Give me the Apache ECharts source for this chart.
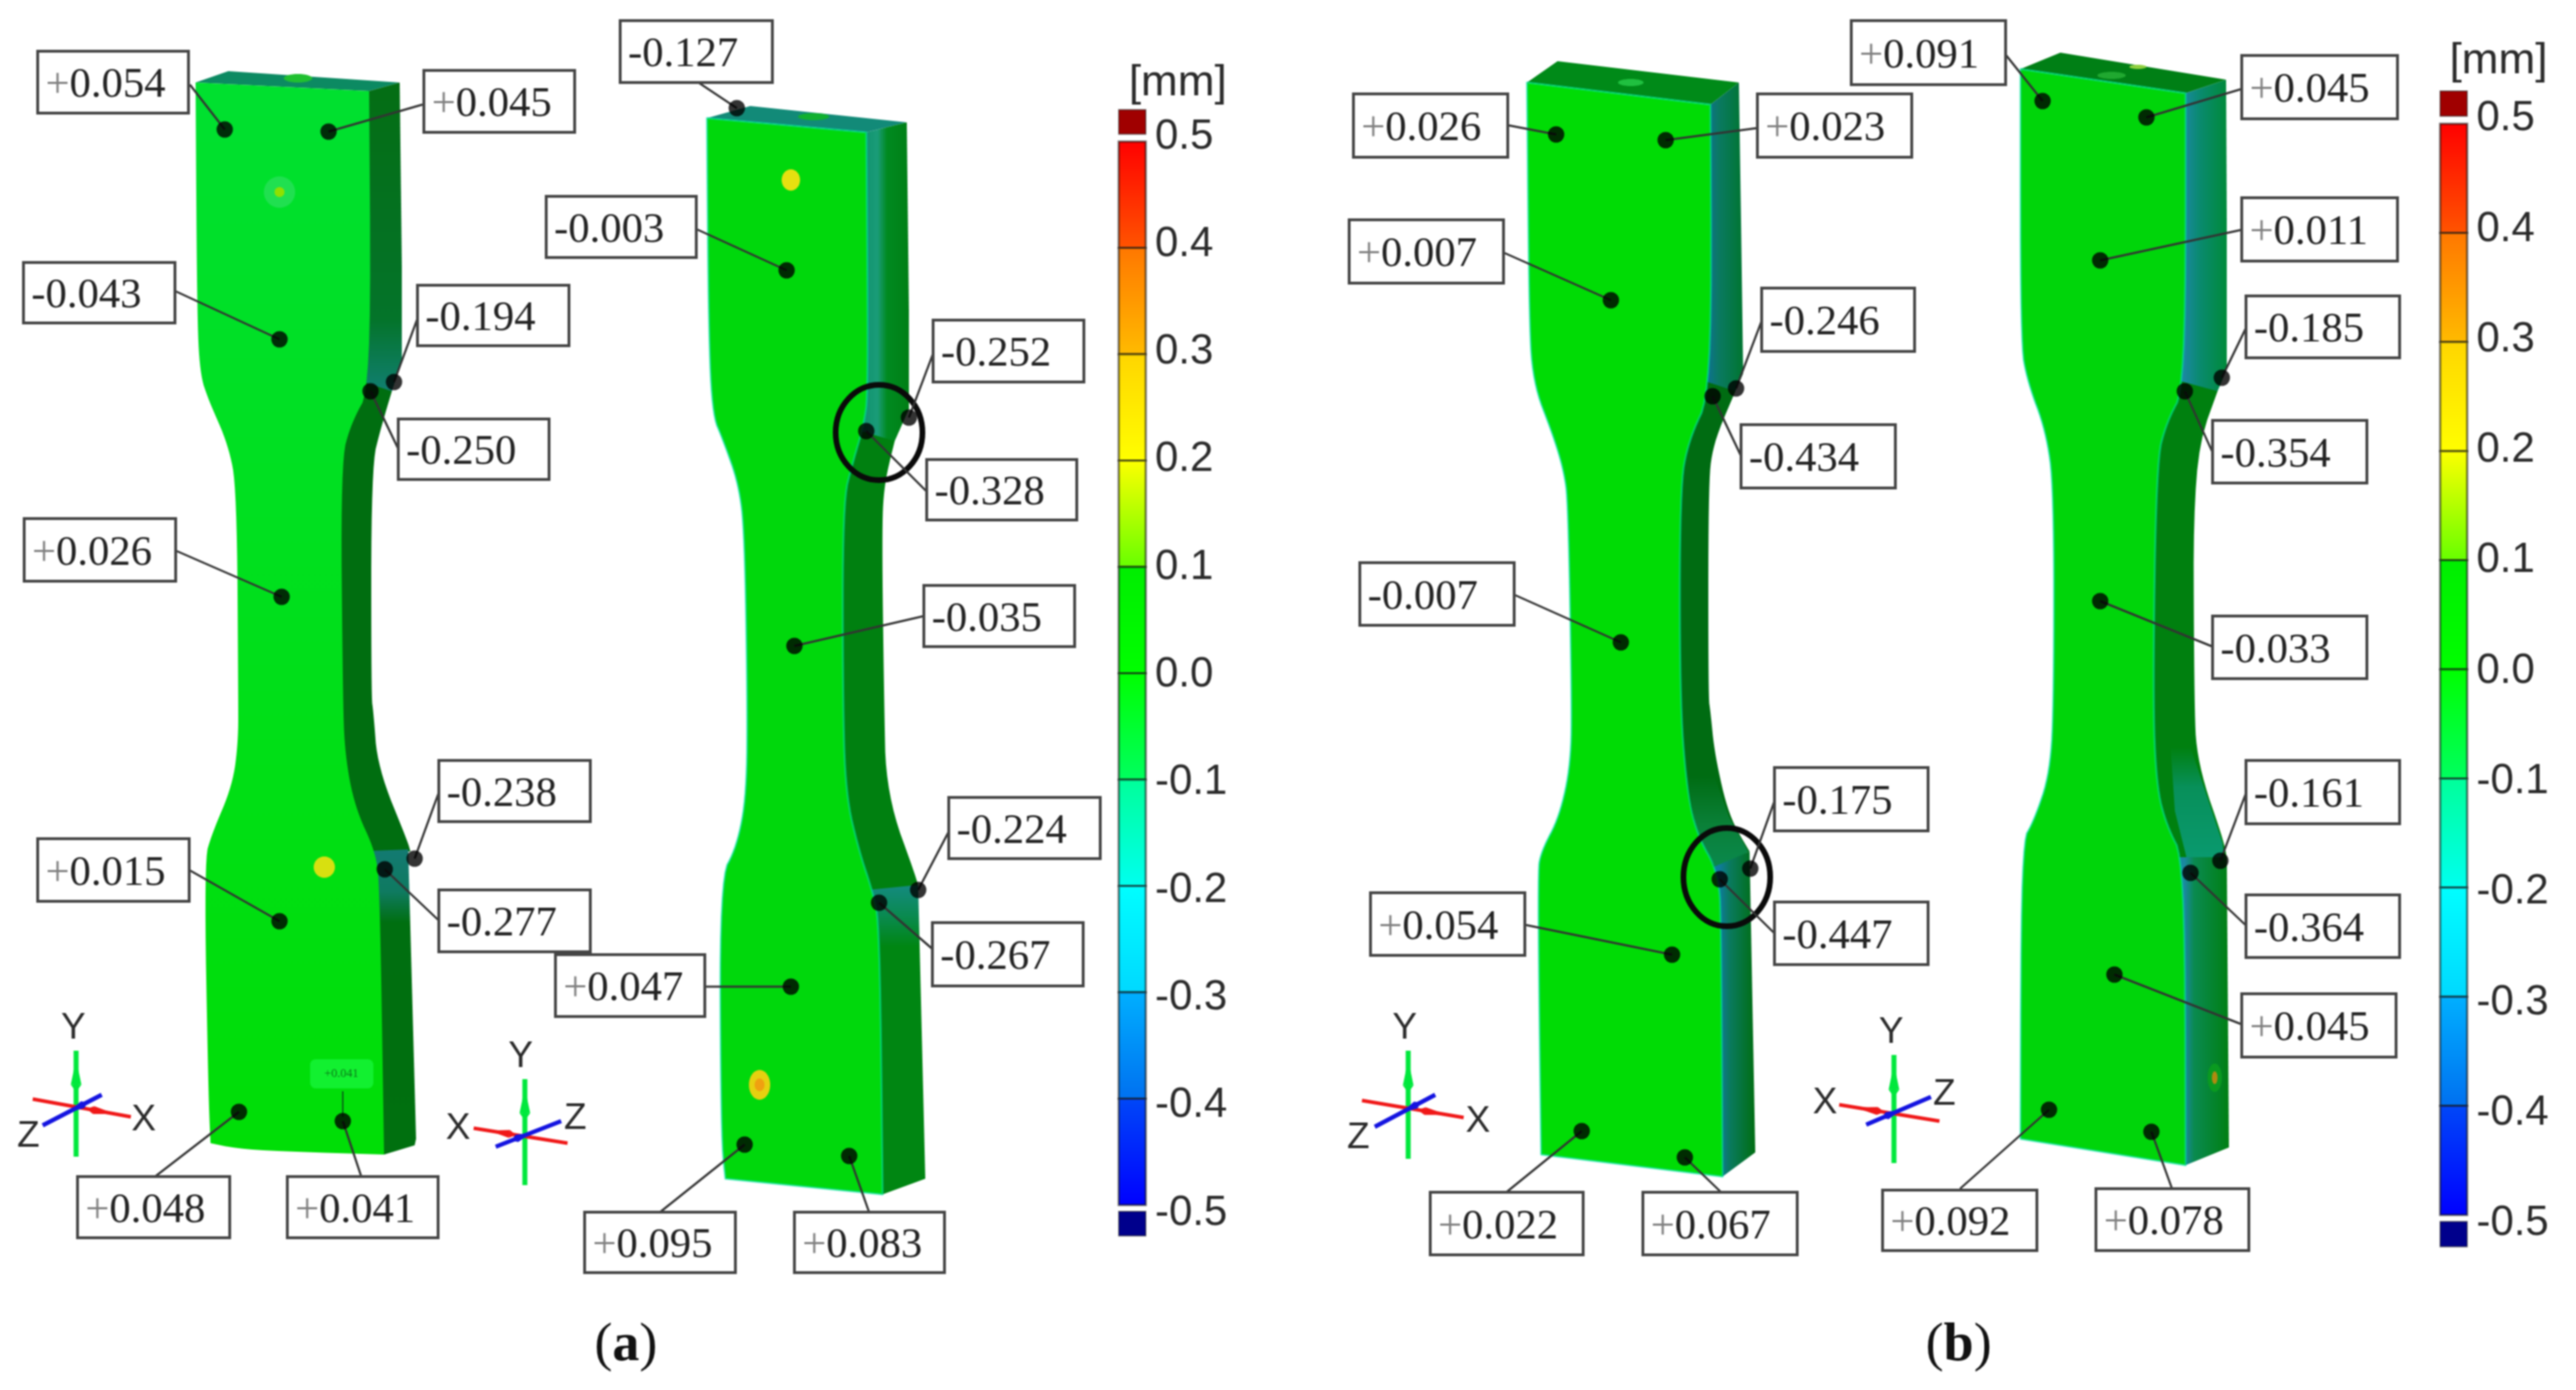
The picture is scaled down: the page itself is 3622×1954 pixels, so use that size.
<!DOCTYPE html>
<html><head><meta charset="utf-8">
<style>html,body{margin:0;padding:0;background:#fff}#chart{width:3622px;height:1954px;filter:blur(1px)}</style>
<script src="https://cdn.jsdelivr.net/npm/echarts@6/dist/echarts.min.js"></script>
</head><body><div id="chart"></div>
<script>
// ---- Callouts: deviation labels in mm
const calloutLabels = ['+0.054','+0.045','-0.043','-0.194','-0.250','+0.026','-0.238','-0.277','+0.015','+0.048','+0.041',
 '-0.127','-0.003','-0.252','-0.328','-0.035','-0.224','-0.267','+0.047','+0.095','+0.083',
 '+0.026','+0.023','+0.007','-0.246','-0.434','-0.007','-0.175','-0.447','+0.054','+0.022','+0.067',
 '+0.091','+0.045','+0.011','-0.185','-0.354','-0.033','-0.161','-0.364','+0.045','+0.092','+0.078'];
const calloutBoxes = [[53,72,265,159],[596,99,808,186],[33,369,246,454],[587,401,800,486],[560,589,772,674],[34,729,247,817],[617,1069,830,1155],[617,1251,830,1338],[53,1179,266,1267],[109,1654,323,1740],[404,1654,616,1740],
 [872,29,1086,116],[768,276,979,362],[1312,450,1524,537],[1303,646,1514,731],[1299,823,1511,909],[1334,1121,1547,1207],[1311,1297,1523,1386],[781,1342,991,1429],[822,1704,1034,1789],[1117,1704,1328,1789],
 [1903,132,2120,221],[2471,132,2688,221],[1897,309,2114,398],[2477,405,2692,494],[2448,597,2665,686],[1912,791,2129,879],[2495,1079,2711,1168],[2495,1268,2711,1356],[1927,1255,2144,1343],[2011,1676,2226,1764],[2310,1676,2527,1764],
 [2603,29,2820,119],[3152,78,3371,167],[3152,278,3371,367],[3158,416,3374,503],[3111,591,3328,679],[3111,866,3328,954],[3158,1069,3374,1158],[3158,1258,3374,1346],[3152,1397,3369,1486],[2647,1673,2864,1758],[2947,1671,3162,1758]];
const calloutDots = [[316,182],[462,185],[393,477],[554,537],[521,550],[396,839],[583,1207],[541,1222],[393,1295],[336,1563],[482,1576],
 [1036,152],[1106,380],[1278,587],[1218,606],[1117,908],[1291,1251],[1236,1269],[1112,1387],[1047,1609],[1194,1625],
 [2188,189],[2342,197],[2265,422],[2441,546],[2408,557],[2279,903],[2461,1221],[2418,1236],[2351,1342],[2224,1590],[2369,1627],
 [2872,142],[3018,165],[2953,366],[3124,531],[3072,550],[2953,845],[3122,1210],[3080,1227],[2973,1370],[2881,1560],[3025,1591]];
const calloutStarts = [[267,119],[594,147],[246,409],[588,445],[560,631],[247,774],[617,1114],[617,1294],[266,1223],[218,1654],[508,1654],
 [982,116],[979,322],[1312,497],[1303,691],[1299,866],[1334,1169],[1311,1334],[991,1387],[928,1704],[1222,1704],
 [2120,176],[2471,180],[2114,355],[2477,451],[2448,641],[2129,836],[2495,1126],[2495,1312],[2144,1300],[2118,1676],[2420,1676],
 [2821,78],[3152,125],[3152,323],[3158,461],[3111,636],[3111,909],[3158,1115],[3158,1301],[3152,1440],[2756,1671],[3054,1671]];

// ---- Specimen outlines (side faces run on beneath the front face)
const a1Front = [[275,116],[519,128],[522,544],[494,594],[479,650],[482,980],[485,1061],[499,1135],[528,1197],[534,1247],[540,1623],[344,1617],[296,1607],[293,1539],[287,1210],[298,1172],[327,1104],[335,1042],[335,980],[333,688],[321,625],[293,562],[281,525],[277,437]];
const a1Top = [[275,116],[321,100],[562,116],[519,128]];
const a1SideUp = [[519,128],[562,116],[565,375],[565,506],[551,550],[490,560],[490,140]];
const a1Neck = [[490,530],[551,550],[536,600],[522,656],[522,980],[525,1000],[531,1079],[574,1185],[577,1197],[503,1197],[474,1135],[460,1061],[457,980],[454,650],[469,594]];
const a1SideLow = [[500,1197],[574,1194],[585,1601],[583,1610],[540,1623],[500,1610]];
const a2Front = [[994,166],[1218,186],[1221,550],[1214,600],[1199,650],[1185,706],[1185,980],[1189,1117],[1208,1197],[1227,1253],[1237,1303],[1241,1679],[1020,1657],[1014,1601],[1012,1235],[1036,1191],[1050,1117],[1051,980],[1047,750],[1039,681],[1017,619],[1001,581],[996,437]];
const a2Top = [[994,166],[1055,149],[1275,172],[1218,186]];
const a2SideUp = [[1218,186],[1275,172],[1278,437],[1278,575],[1258,620],[1190,620],[1190,200]];
const a2Neck = [[1190,600],[1258,620],[1243,681],[1240,750],[1243,980],[1246,1117],[1291,1241],[1291,1250],[1202,1253],[1183,1197],[1164,1117],[1160,980],[1160,706],[1174,650]];
const a2SideLow = [[1200,1253],[1291,1244],[1301,1657],[1241,1679],[1200,1670]];
const b1Front = [[2147,116],[2405,147],[2407,550],[2374,619],[2362,687],[2362,980],[2371,1104],[2385,1172],[2417,1228],[2420,1309],[2422,1654],[2167,1623],[2162,1228],[2167,1197],[2193,1148],[2209,1073],[2210,980],[2205,706],[2199,662],[2184,612],[2155,537],[2150,437]];
const b1Top = [[2147,116],[2190,86],[2445,116],[2405,147]];
const b1SideUp = [[2405,147],[2445,116],[2448,312],[2451,525],[2440,550],[2375,560],[2375,170]];
const b1Neck = [[2380,530],[2440,550],[2408,625],[2402,687],[2402,980],[2405,1000],[2411,1061],[2431,1148],[2460,1197],[2392,1228],[2360,1172],[2346,1104],[2337,980],[2337,687],[2349,619]];
const b1SideLow = [[2395,1225],[2460,1197],[2468,1620],[2422,1654],[2395,1640]];
const b2Front = [[2841,97],[3073,131],[3073,544],[3046,594],[3032,650],[3027,980],[3032,1104],[3046,1160],[3072,1210],[3073,1638],[2841,1601],[2842,1185],[2860,1154],[2883,1086],[2888,980],[2888,687],[2877,606],[2851,537],[2841,481]];
const b2Top = [[2841,97],[2897,74],[3130,112],[3073,131]];
const b2SideUp = [[3073,131],[3130,112],[3131,312],[3131,519],[3118,550],[3045,560],[3045,150]];
const b2Neck = [[3045,530],[3118,550],[3084,644],[3085,980],[3089,1073],[3130,1191],[3131,1215],[3047,1210],[3021,1160],[3007,1104],[3002,980],[3007,650],[3021,594]];
const b2SideLow = [[3045,1205],[3131,1205],[3134,1613],[3073,1638],[3045,1625]];
const a2Sliver = [[1288,597],[1276,597],[1253,656],[1266,652]];
const b2NeckPatch = [[3052,1050],[3080,1050],[3125,1185],[3128,1212],[3075,1208],[3058,1140]];
const b1NeckPatch = [[2373,1090],[2410,1090],[2431,1148],[2458,1197],[2417,1228],[2385,1172]];

const faces = [a1Top,a1SideUp,a1Neck,a1SideLow,a1Front, a2Top,a2SideUp,a2Neck,a2SideLow,a2Front,a2Sliver,
  b1Top,b1SideUp,b1Neck,b1NeckPatch,b1SideLow,b1Front, b2Top,b2SideUp,b2Neck,b2NeckPatch,b2SideLow,b2Front];
const curvedFaces = [a1Neck,a1Front,a2Neck,a2Front,b1Neck,b1Front,b2Neck,b2Front];

// ---- Small painted spots on the scanned surface [x, y, rx, ry]
const spots = [[393,270,22,22],[393,270,7,7],[456,1219,15,15],[419,110,20,6],
 [1112,253,13,15],[1068,1525,15,21],[1068,1525,7,9],[1144,164,22,5],
 [2293,116,18,5],[3114,1515,10,20],[3114,1515,4,9],[2969,106,20,5],[3006,94,12,3]];

// ---- Rings marking the fracture location [x, y, rx, ry]
const rings = [[1236,608,61,67],[2428,1233,61,69]];

// ---- Coordinate triads: [x0,y0,x1,y1], second point is the tip
const triadGreen = [[107,1626,107,1477],[738,1666,738,1517],[1980,1629,1980,1477],[2663,1635,2663,1483]];
const triadRed = [[46,1545,184,1570],[798,1607,666,1586],[1915,1547,2058,1571],[2727,1576,2586,1553]];
const triadBlue = [[143,1539,60,1582],[697,1612,789,1576],[2018,1539,1933,1584],[2624,1581,2715,1542]];
const triadLetters = [['Y',103,1446],['X',202,1575],['Z',40,1598],['Y',732,1486],['X',644,1587],['Z',809,1573],
 ['Y',1975,1446],['X',2078,1577],['Z',1910,1600],['Y',2659,1452],['X',2566,1551],['Z',2734,1539]];

// ---- Colour scale
const scaleBands = [[0.4,0.5],[0.3,0.4],[0.2,0.3],[0.1,0.2],[0,0.1],[-0.1,0],[-0.2,-0.1],[-0.3,-0.2],[-0.4,-0.3],[-0.5,-0.4]];
const scaleCaps = [[0.507,0.53],[-0.529,-0.506]];
const scaleTicks = [0.5,0.4,0.3,0.2,0.1,0,-0.1,-0.2,-0.3,-0.4,-0.5];
const unitLabels = [['[mm]',1656,117],['[mm]',3513,86]];
const panelLabels = [['a',880,1892],['b',2754,1892]];
const insetText = ['+0.041',480,1510];

// ---- Styles
const V = (a)=>({type:'linear',x:0,y:0,x2:0,y2:1,colorStops:a.map(s=>({offset:s[0],color:s[1]}))});
const H = (a)=>({type:'linear',x:0,y:0,x2:1,y2:0,colorStops:a.map(s=>({offset:s[0],color:s[1]}))});
const bandFills = [
 V([[0,'#ff0000'],[1,'#ff5500']]),V([[0,'#ff7700'],[1,'#ffbb00']]),V([[0,'#ffd500'],[1,'#ffff00']]),V([[0,'#ffff00'],[1,'#66ff00']]),
 V([[0,'#00ee00'],[1,'#00ff00']]),V([[0,'#00ff00'],[1,'#00ff60']]),V([[0,'#00ff99'],[1,'#00fff0']]),V([[0,'#00ffff'],[1,'#00d8ff']]),
 V([[0,'#00b0ff'],[1,'#0070f0']]),V([[0,'#0048f8'],[1,'#0000ff']])];
const capFills = ['#a00000','#00008c'];
const frontEdge = 'rgba(0,225,170,0.55)';
const faceStyles = [
 {fill:'#0c8a62'},{fill:V([[0,'#046e14'],[0.75,'#04742a'],[1,'#128078']])},{fill:'#006e10'},{fill:V([[0,'#137a72'],[0.14,'#0f7a60'],[0.24,'#006f10'],[1,'#00700f']])},{fill:V([[0,'#00e030'],[0.4,'#00e020'],[1,'#00de06']])},
 {fill:'#128a78'},{fill:H([[0.1,'#0a8a68'],[0.5,'#1a9c78'],[0.65,'#008a20'],[1,'#007f15']])},{fill:'#008010'},{fill:V([[0,'#148a80'],[0.1,'#0a8a50'],[0.2,'#008612'],[1,'#008612']])},{fill:'#00d80c',stroke:frontEdge},{fill:'#ffffff'},
 {fill:'#008a18'},{fill:H([[0.3,'#0f6f9a'],[0.55,'#0a7a62'],[1,'#007530']])},{fill:'#006c12'},{fill:V([[0,'#006c12'],[0.5,'#0a8038'],[1,'#0a8a50']])},{fill:H([[0.3,'#0f7aa0'],[0.5,'#0a7a60'],[1,'#006e12']])},{fill:'#00dc05',stroke:frontEdge},
 {fill:'#007f15'},{fill:H([[0.3,'#1a88a0'],[0.55,'#0a8a70'],[1,'#008a3a']])},{fill:'#00800f'},{fill:V([[0,'#00800f'],[0.35,'#08905a'],[1,'#0a9a70']])},{fill:H([[0.3,'#1a88a0'],[0.45,'#0a8a50'],[1,'#007f12']])},{fill:'#00d50a',stroke:frontEdge}];
const spotFills = ['#20e050','#90e000','#d8e010','#20c030','#e6e010','#e6d010','#f0a010','#10b030','#20c040','#0a9a20','#b08a10','#20a830','#90d040'];
const serif = '"Liberation Serif","Times New Roman",serif';
const sans = '"Liberation Sans",Arial,sans-serif';

function byIndex(list){ return list.map((d,i)=>[d[0],d[1],i]); }
function firstPoint(list){ return list.map((f,i)=>[f[0][0],f[0][1],i]); }
// Round the gentle bends of an outline and keep its sharp corners.
function rounded(pts){
  let cur=pts.map(p=>({p,soft:false}));
  const n=pts.length;
  cur.forEach((v,i)=>{
    const a=pts[(i-1+n)%n],b=pts[i],c=pts[(i+1)%n];
    const t=Math.abs(Math.atan2(b[1]-a[1],b[0]-a[0])-Math.atan2(c[1]-b[1],c[0]-b[0]));
    const ang=Math.min(t,2*Math.PI-t);
    v.soft=ang<0.75;
  });
  for(let it=0;it<3;it++){
    const out=[],m=cur.length;
    cur.forEach((v,i)=>{
      if(!v.soft){out.push(v);return;}
      const a=cur[(i-1+m)%m].p,b=v.p,c=cur[(i+1)%m].p;
      out.push({p:[b[0]+(a[0]-b[0])*0.25,b[1]+(a[1]-b[1])*0.25],soft:true});
      out.push({p:[b[0]+(c[0]-b[0])*0.25,b[1]+(c[1]-b[1])*0.25],soft:true});
    });
    cur=out;
  }
  return cur.map(v=>v.p);
}
const drawnFaces = faces.map(f=>curvedFaces.includes(f)?rounded(f):f);

const chart = echarts.init(document.getElementById('chart'),null,{renderer:'canvas',width:3622,height:1954});

function colourBar(ax){
  return [
   {type:'custom',xAxisIndex:ax,yAxisIndex:ax,silent:true,z:3,data:scaleBands.map((b,i)=>[0,b[0],b[1],i]),
    encode:{x:0,y:1},
    renderItem(p,api){
      const i=p.dataIndex,a=api.coord([0,scaleBands[i][1]]),b=api.coord([1,scaleBands[i][0]]);
      return {type:'rect',shape:{x:a[0],y:a[1],width:b[0]-a[0],height:b[1]-a[1]},style:{fill:bandFills[i],stroke:'rgba(20,20,20,0.6)',lineWidth:3}};
    }},
   {type:'custom',xAxisIndex:ax,yAxisIndex:ax,silent:true,z:3,data:scaleCaps.map((b,i)=>[0,b[0],b[1],i]),
    encode:{x:0,y:1},
    renderItem(p,api){
      const i=p.dataIndex,a=api.coord([0,scaleCaps[i][1]]),b=api.coord([1,scaleCaps[i][0]]);
      return {type:'rect',shape:{x:a[0],y:Math.min(a[1],b[1]),width:b[0]-a[0],height:Math.abs(b[1]-a[1])},style:{fill:capFills[i],stroke:'rgba(30,30,30,0.5)',lineWidth:2}};
    }}
  ];
}
const hiddenX=(i)=>({type:'value',gridIndex:i,min:0,max:1,show:false});
const barY=(i)=>({type:'value',gridIndex:i,min:-0.6,max:0.6,interval:0.1,show:false});
const labelY=(i)=>({type:'value',gridIndex:i,min:-0.6,max:0.6,interval:0.1,position:'right',
   axisLine:{show:false},axisTick:{show:false},splitLine:{show:false},
   axisLabel:{show:true,fontSize:59,fontFamily:sans,color:'#2a2a2a',margin:13,
     formatter:v=>scaleTicks.some(t=>Math.abs(t-v)<1e-6)?Number(v).toFixed(1):''}});

const option = {
 backgroundColor:'#ffffff',animation:false,
 grid:[{left:0,top:0,width:3622,height:1954},
   {left:1573,width:38,top:49.5,height:1794},{left:3431,width:38,top:20.6,height:1840.8},
   {left:1573,width:38,top:41,height:1815.6},{left:3431,width:38,top:11.7,height:1863.6}],
 xAxis:[{type:'value',min:0,max:3622,show:false,gridIndex:0},hiddenX(1),hiddenX(2),hiddenX(3),hiddenX(4)],
 yAxis:[{type:'value',min:0,max:1954,inverse:true,show:false,gridIndex:0},barY(1),barY(2),labelY(3),labelY(4)],
 series:[
  {type:'custom',silent:true,z:2,data:firstPoint(faces),encode:{x:0,y:1},
   renderItem(p,api){
     const i=p.dataIndex,st=faceStyles[i];
     return {type:'polygon',shape:{points:drawnFaces[i].map(q=>api.coord(q))},
       style:{fill:st.fill,stroke:st.stroke||'none',lineWidth:st.stroke?3:0,lineJoin:'round'}};
   }},
  {type:'custom',silent:true,z:3,data:byIndex(spots),encode:{x:0,y:1},
   renderItem(p,api){
     const s=spots[p.dataIndex],c=api.coord([s[0],s[1]]),e=api.coord([s[0]+s[2],s[1]+s[3]]);
     return {type:'ellipse',shape:{cx:c[0],cy:c[1],rx:e[0]-c[0],ry:e[1]-c[1]},style:{fill:spotFills[p.dataIndex]}};
   }},
  // triads
  ...[[triadGreen,'#00e83c',7,[0.68,0.92],15],[triadRed,'#f01818',5,[0.62,0.84],11],[triadBlue,'#1414e0',6,[0.32,0.55],11]].map(([list,col,w,head,hw])=>({
    type:'custom',silent:true,z:4,data:list.map((t,i)=>[t[0],t[1],i]),encode:{x:0,y:1},
    renderItem(p,api){
      const t=list[p.dataIndex],a=api.coord([t[0],t[1]]),b=api.coord([t[2],t[3]]);
      const dx=b[0]-a[0],dy=b[1]-a[1],L=Math.hypot(dx,dy),nx=-dy/L*hw/2,ny=dx/L*hw/2;
      const m=[a[0]+dx*head[0],a[1]+dy*head[0]],n=[a[0]+dx*head[1],a[1]+dy*head[1]];
      return {type:'group',children:[
        {type:'line',shape:{x1:a[0],y1:a[1],x2:b[0],y2:b[1]},style:{stroke:col,lineWidth:w}},
        {type:'polygon',shape:{points:[[m[0]+nx,m[1]+ny],[n[0],n[1]],[m[0]-nx,m[1]-ny]]},style:{fill:col}},
        {type:'polygon',shape:{points:[[a[0]+dx*(head[0]-0.07),a[1]+dy*(head[0]-0.07)],[m[0]+nx,m[1]+ny],[m[0]-nx,m[1]-ny]]},style:{fill:col}}
      ]};
    }})),
  {type:'custom',silent:true,z:4,data:triadLetters.map((t,i)=>[t[1],t[2],i]),encode:{x:0,y:1},
   renderItem(p,api){
     const t=triadLetters[p.dataIndex],c=api.coord([t[1],t[2]]);
     return {type:'text',style:{text:t[0],x:c[0],y:c[1],align:'center',verticalAlign:'middle',fontFamily:sans,fontSize:52,fill:'#2a2a2a'}};
   }},
  // inset tag on the first specimen
  {type:'custom',silent:true,z:4,data:[[insetText[1],insetText[2]]],encode:{x:0,y:1},
   renderItem(p,api){
     const c=api.coord([insetText[1],insetText[2]]);
     return {type:'group',children:[
      {type:'rect',shape:{x:c[0]-44,y:c[1]-21,width:89,height:41,r:8},style:{fill:'#12f030'}},
      {type:'text',style:{text:insetText[0],x:c[0],y:c[1],align:'center',verticalAlign:'middle',fontFamily:serif,fontSize:17,fill:'#0a7a18'}},
      {type:'line',shape:{x1:c[0]+2,y1:c[1]+24,x2:c[0]+2,y2:c[1]+60},style:{stroke:'#0a5a18',lineWidth:2}}
     ]};
   }},
  // rings
  {type:'custom',silent:true,z:5,data:byIndex(rings),encode:{x:0,y:1},
   renderItem(p,api){
     const s=rings[p.dataIndex],c=api.coord([s[0],s[1]]),e=api.coord([s[0]+s[2],s[1]+s[3]]);
     return {type:'ellipse',shape:{cx:c[0],cy:c[1],rx:e[0]-c[0],ry:e[1]-c[1]},style:{fill:'none',stroke:'#0a0a0a',lineWidth:8}};
   }},
  // leader lines
  {type:'custom',silent:true,z:6,data:byIndex(calloutStarts),encode:{x:0,y:1},
   renderItem(p,api){
     const a=api.coord(calloutStarts[p.dataIndex]),b=api.coord(calloutDots[p.dataIndex]);
     return {type:'line',shape:{x1:a[0],y1:a[1],x2:b[0],y2:b[1]},style:{stroke:'#333',lineWidth:3}};
   }},
  // dots
  {type:'scatter',silent:true,z:7,data:calloutDots,symbol:'circle',symbolSize:23,itemStyle:{color:'#000'}},
  // label boxes
  {type:'custom',silent:true,z:8,data:calloutBoxes.map((b,i)=>[b[0],b[1],i]),encode:{x:0,y:1},
   renderItem(p,api){
     const i=p.dataIndex,b=calloutBoxes[i],a=api.coord([b[0],b[1]]),e=api.coord([b[2],b[3]]),t=calloutLabels[i];
     const plus=t[0]==='+';
     return {type:'group',children:[
      {type:'rect',shape:{x:a[0],y:a[1],width:e[0]-a[0],height:e[1]-a[1]},style:{fill:'#fff',stroke:'#444',lineWidth:4}},
      {type:'text',style:{text:plus?'{p|+}'+t.slice(1):t,x:a[0]+11,y:(a[1]+e[1])/2+5,align:'left',verticalAlign:'middle',
        fontFamily:serif,fontSize:60,fill:'#222',rich:{p:{fill:'#808080',fontFamily:serif,fontSize:60}}}}
     ]};
   }},
  // unit labels
  {type:'custom',silent:true,z:8,data:unitLabels.map(u=>[u[1],u[2]]),encode:{x:0,y:1},
   renderItem(p,api){
     const u=unitLabels[p.dataIndex],c=api.coord([u[1],u[2]]);
     return {type:'text',style:{text:u[0],x:c[0],y:c[1],align:'center',verticalAlign:'middle',fontFamily:sans,fontSize:62,fill:'#2a2a2a'}};
   }},
  // panel labels
  {type:'custom',silent:true,z:8,data:panelLabels.map(u=>[u[1],u[2]]),encode:{x:0,y:1},
   renderItem(p,api){
     const u=panelLabels[p.dataIndex],c=api.coord([u[1],u[2]]);
     return {type:'text',style:{text:'({b|'+u[0]+'})',x:c[0],y:c[1],align:'center',verticalAlign:'middle',fontFamily:serif,fontSize:76,fill:'#111',
        rich:{b:{fontFamily:serif,fontSize:76,fontWeight:'bold',fill:'#111'}}}};
   }},
  // empty series keep the label axes alive
  {type:'scatter',xAxisIndex:3,yAxisIndex:3,data:[],silent:true},
  {type:'scatter',xAxisIndex:4,yAxisIndex:4,data:[],silent:true},
  ...colourBar(1),...colourBar(2)
 ]
};
chart.setOption(option);
</script></body></html>
